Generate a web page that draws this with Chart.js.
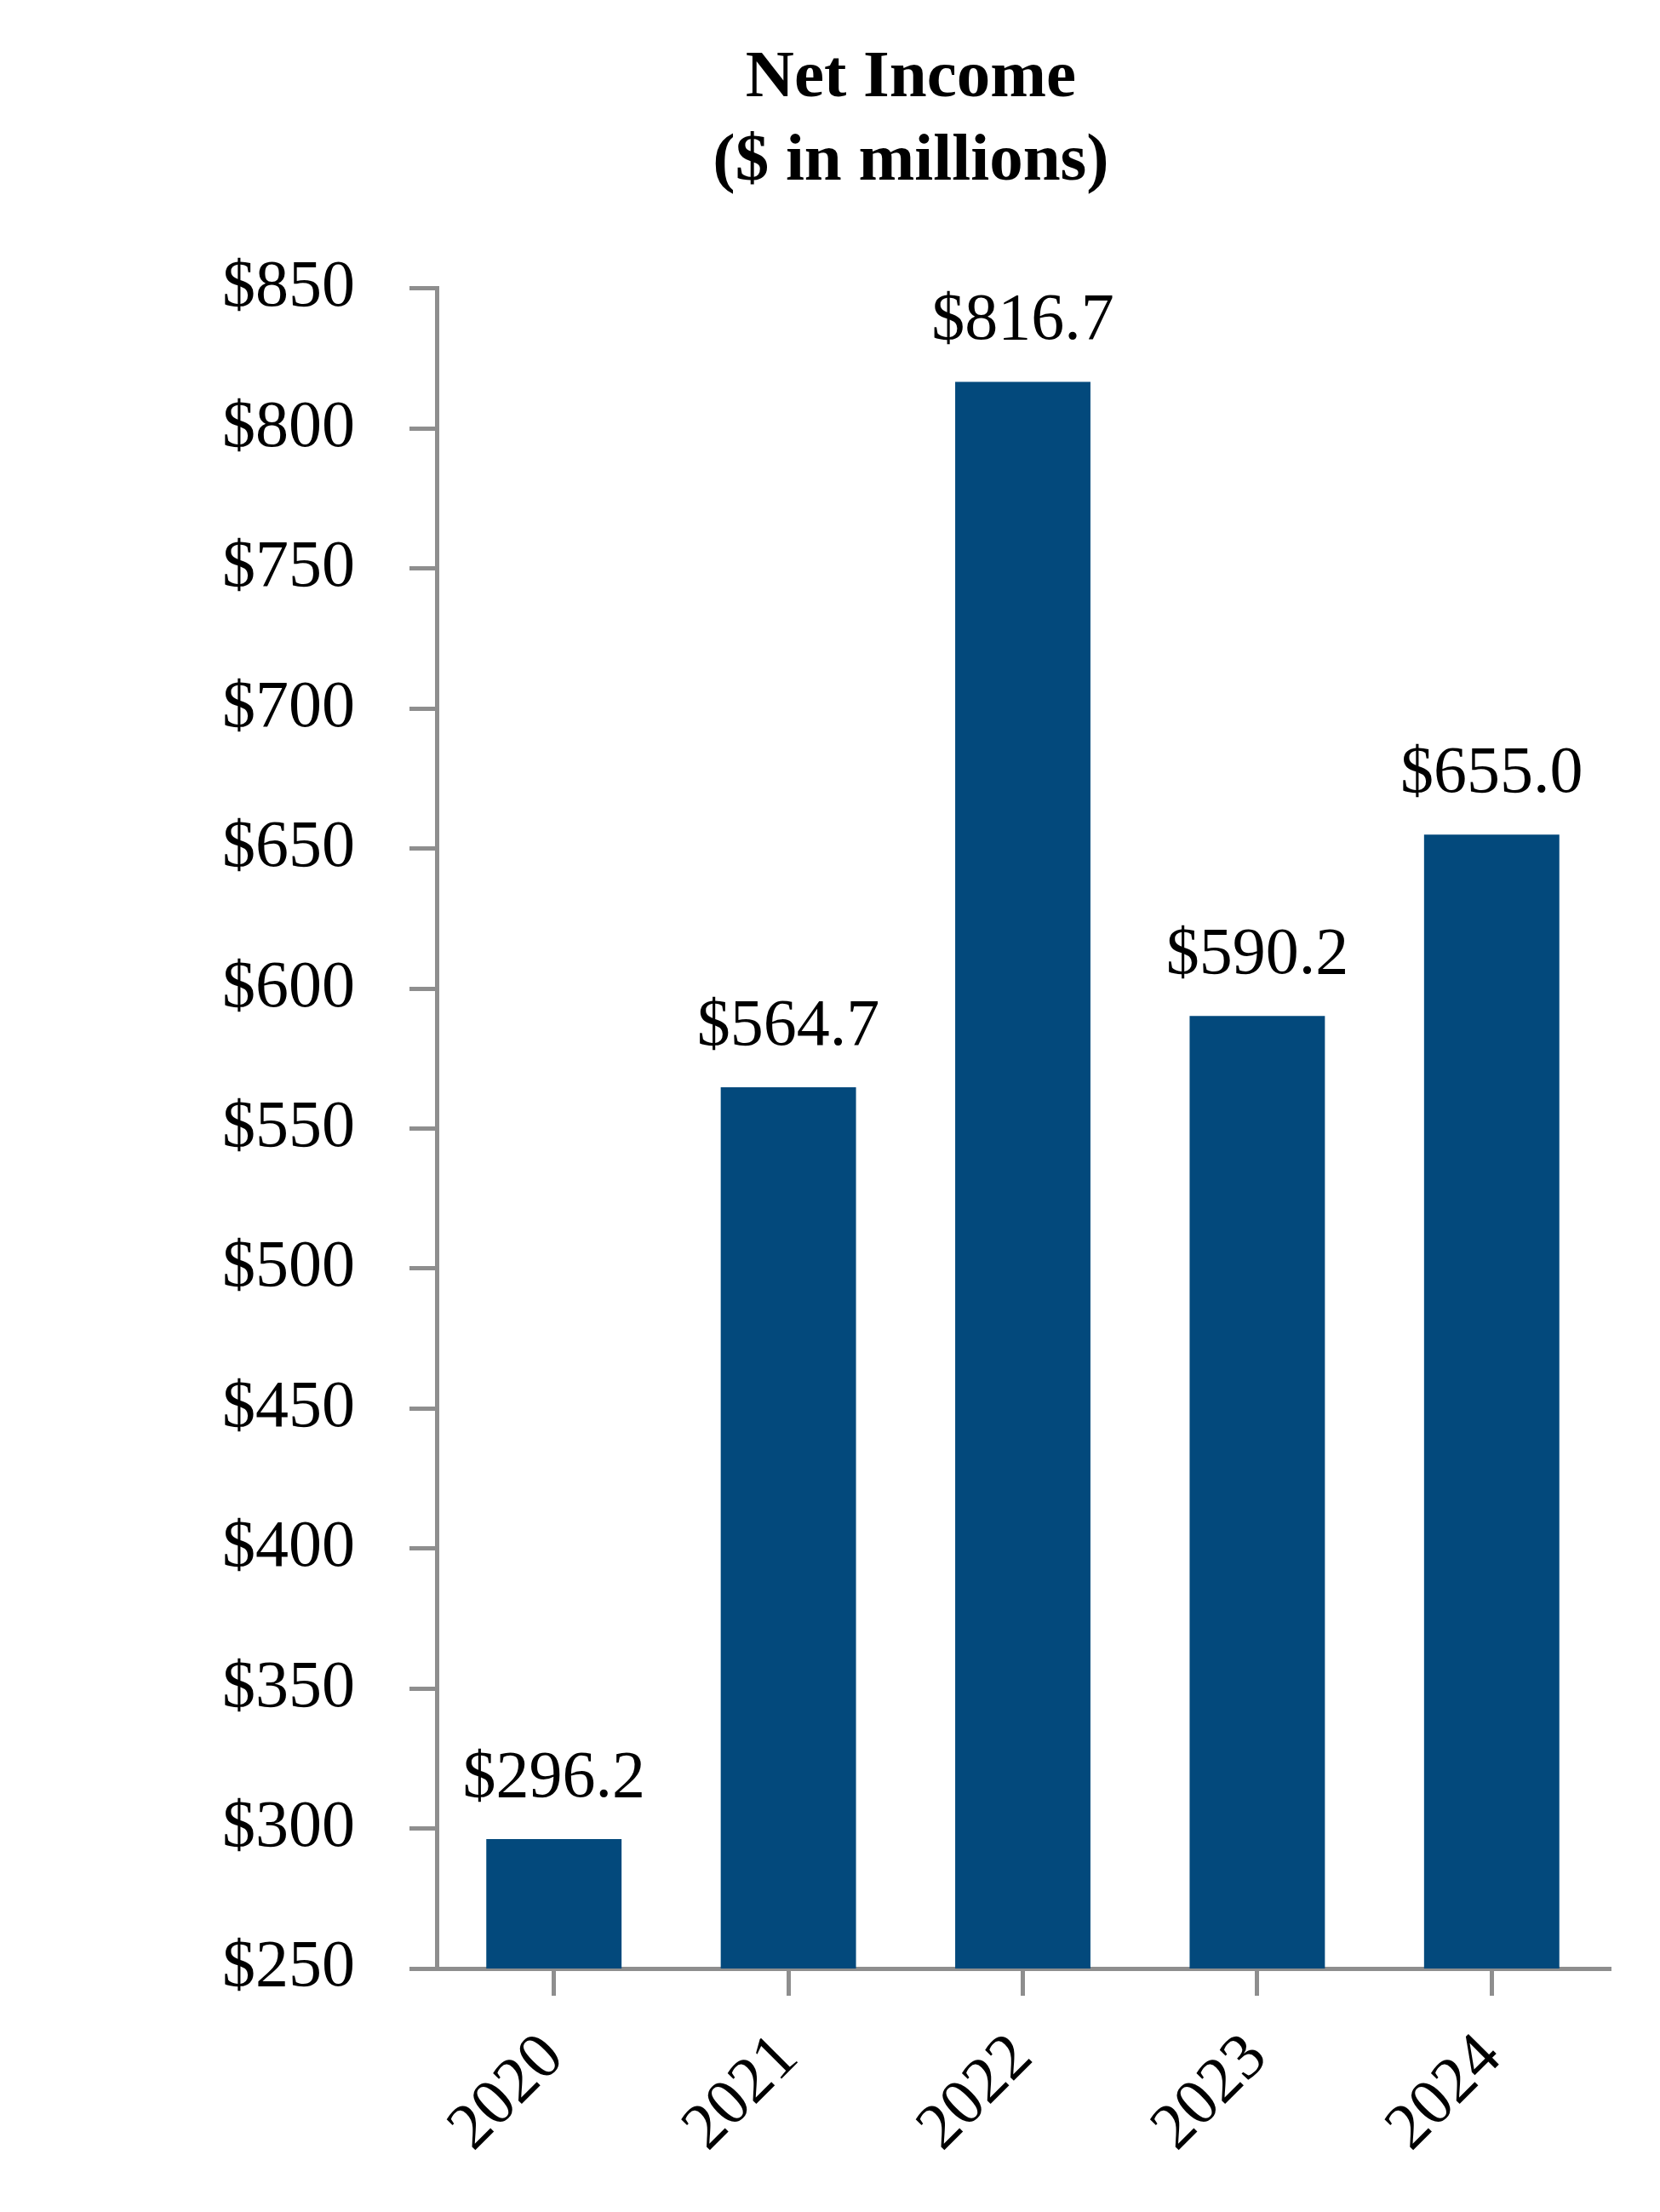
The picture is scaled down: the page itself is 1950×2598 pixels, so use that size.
<!DOCTYPE html>
<html>
<head>
<meta charset="utf-8">
<script src="https://cdn.jsdelivr.net/npm/chart.js@4.4.1/dist/chart.umd.min.js"></script>
<style>
  html, body { margin: 0; padding: 0; background: #ffffff; }
  #wrap { width: 1950px; height: 2598px; }
</style>
</head>
<body>
<div id="wrap"><canvas id="c" width="1950" height="2598"></canvas></div>
<script>
const categories = ['2020', '2021', '2022', '2023', '2024'];
const netIncome = [296.2, 564.7, 816.7, 590.2, 655.0];
const yTickMin = 250;
const yTickMax = 850;
const yTickStep = 50;
const titleLines = ['Net Income', '($ in millions)'];

const FONT = "'Liberation Serif', 'Times New Roman', Times, serif";
const BAR = '#03497C';
const GRAY = '#8E8E8E';

const valueLabels = {
  id: 'valueLabels',
  afterDatasetsDraw(chart) {
    const ctx = chart.ctx;
    const meta = chart.getDatasetMeta(0);
    ctx.save();
    ctx.font = '78px ' + FONT;
    ctx.fillStyle = '#000000';
    ctx.textAlign = 'center';
    ctx.textBaseline = 'alphabetic';
    meta.data.forEach((bar, i) => {
      ctx.fillText('$' + netIncome[i].toFixed(1), bar.x, bar.y - 50);
    });
    ctx.restore();
  }
};

new Chart(document.getElementById('c'), {
  type: 'bar',
  data: {
    labels: categories,
    datasets: [{
      data: netIncome,
      backgroundColor: BAR,
      borderWidth: 0,
      categoryPercentage: 1.0,
      barPercentage: 0.577
    }]
  },
  options: {
    responsive: false,
    animation: false,
    devicePixelRatio: 1,
    layout: { padding: { left: 250, right: 60, top: 0, bottom: 0 } },
    plugins: {
      legend: { display: false },
      tooltip: { enabled: false },
      title: {
        display: true,
        text: titleLines,
        color: '#000000',
        font: { family: FONT, size: 79, weight: 'bold', lineHeight: 1.24 },
        padding: { top: 44, bottom: 99 }
      }
    },
    scales: {
      x: {
        offset: true,
        grid: {
          offset: false,
          display: true,
          drawOnChartArea: false,
          drawTicks: true,
          tickLength: 32,
          color: GRAY,
          lineWidth: 5
        },
        border: { display: true, color: GRAY, width: 5 },
        ticks: {
          color: '#000000',
          font: { family: FONT, size: 77 },
          minRotation: 45,
          maxRotation: 45,
          padding: 28
        },
        afterFit(scale) { scale.height = 286; }
      },
      y: {
        min: yTickMin,
        max: yTickMax,
        grid: {
          display: true,
          drawOnChartArea: false,
          drawTicks: true,
          tickLength: 32,
          color: GRAY,
          lineWidth: 5
        },
        border: { display: true, color: GRAY, width: 5 },
        ticks: {
          stepSize: yTickStep,
          color: '#000000',
          font: { family: FONT, size: 78 },
          padding: 64,
          callback: (v) => '$' + v
        },
        afterFit(scale) { scale.width = 263; }
      }
    }
  },
  plugins: [valueLabels]
});
</script>
</body>
</html>
